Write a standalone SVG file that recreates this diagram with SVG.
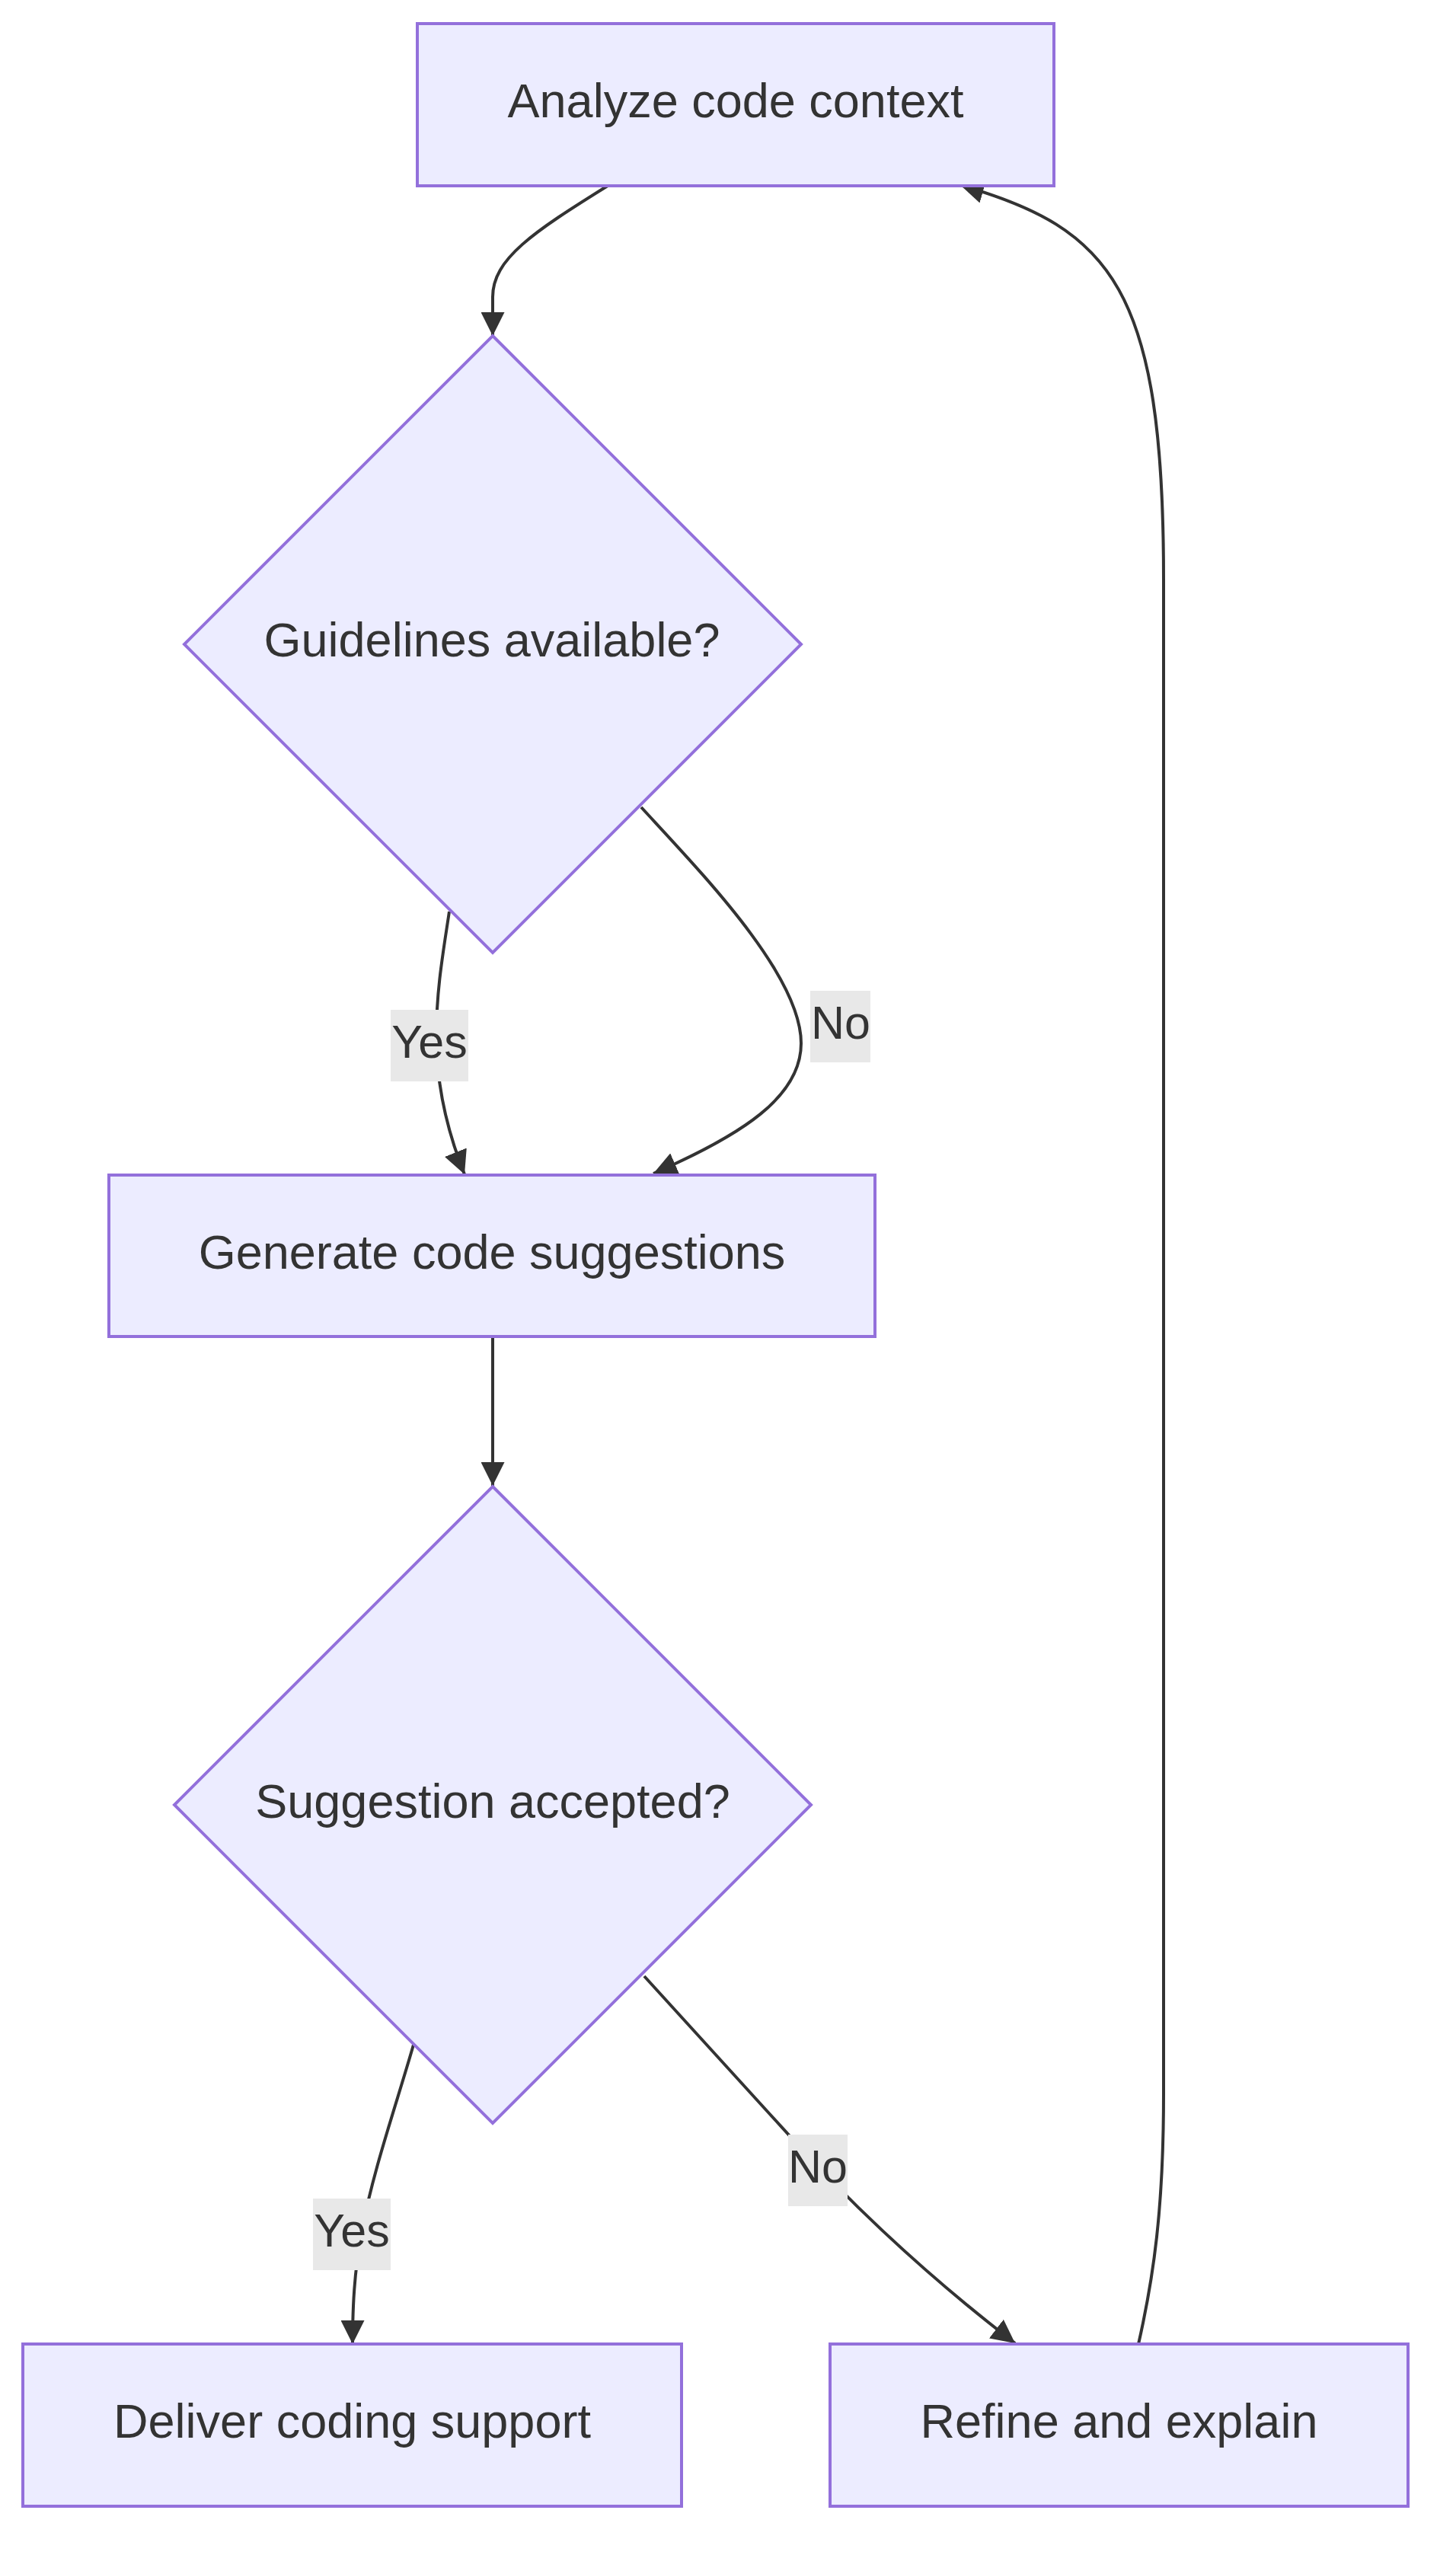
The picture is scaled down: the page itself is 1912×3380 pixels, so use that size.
<svg xmlns="http://www.w3.org/2000/svg" width="1912" height="3380" viewBox="0 0 1912 3380">
<defs>
<style>
.node-shape{fill:#ECECFF;stroke:#9370DB;stroke-width:4}
.node-text{font-family:"Liberation Sans",Arial,sans-serif;font-size:63px;fill:#333333;text-anchor:middle}
.edge{fill:none;stroke:#333333;stroke-width:4}
.lbl-bg{fill:#E8E8E8}
.lbl-text{font-family:"Liberation Sans",Arial,sans-serif;font-size:61px;fill:#333333;text-anchor:middle}
</style>
<marker id="arrow" viewBox="0 0 10 10" refX="10" refY="5" markerUnits="userSpaceOnUse" markerWidth="31" markerHeight="31" orient="auto">
<path d="M0,0 L10,5 L0,10 z" fill="#333333"/>
</marker>
</defs>
<rect width="1912" height="3380" fill="#FFFFFF"/>
<g id="connectors">
<path class="edge" d="M798,244 C700,305 647,340 647,390 L647,441" marker-end="url(#arrow)"/>
<path class="edge" d="M590,1197 C582,1250 573,1300 573,1360 C573,1420 585,1480 610,1542" marker-end="url(#arrow)"/>
<path class="edge" d="M842,1060 C920,1145 1052,1280 1052,1370 C1052,1440 975,1490 858,1541" marker-end="url(#arrow)"/>
<path class="edge" d="M647,1755 L647,1951" marker-end="url(#arrow)"/>
<path class="edge" d="M543,2685 C520,2765 490,2850 475,2930 C465,2985 463,3030 463,3078" marker-end="url(#arrow)"/>
<path class="edge" d="M846,2595 L1040,2808 C1100,2875 1200,2975 1333,3077" marker-end="url(#arrow)"/>
<path class="edge" d="M1495,3078 C1515,2990 1528,2900 1528,2750 L1528,760 C1528,380 1460,300 1261,243" marker-end="url(#arrow)"/>
</g>
<g id="edge-labels">
<g id="label-yes1"><rect class="lbl-bg" x="513" y="1326" width="102" height="94"/><text class="lbl-text" x="564" y="1389">Yes</text></g>
<g id="label-no1"><rect class="lbl-bg" x="1064" y="1301" width="79" height="94"/><text class="lbl-text" x="1104" y="1364">No</text></g>
<g id="label-yes2"><rect class="lbl-bg" x="411" y="2887" width="102" height="94"/><text class="lbl-text" x="462" y="2950">Yes</text></g>
<g id="label-no2"><rect class="lbl-bg" x="1035" y="2803" width="78" height="94"/><text class="lbl-text" x="1074" y="2866">No</text></g>
</g>
<g id="node-analyze">
<rect class="node-shape" x="548" y="31" width="836" height="213"/>
<text class="node-text" x="966" y="154">Analyze code context</text>
</g>
<g id="node-guidelines">
<polygon class="node-shape" points="647,441 1052,846 647,1251 242,846"/>
<text class="node-text" x="646" y="862">Guidelines available?</text>
</g>
<g id="node-generate">
<rect class="node-shape" x="143" y="1543" width="1006" height="212"/>
<text class="node-text" x="646" y="1666">Generate code suggestions</text>
</g>
<g id="node-accepted">
<polygon class="node-shape" points="647,1952 1065,2370 647,2788 229,2370"/>
<text class="node-text" x="647" y="2387">Suggestion accepted?</text>
</g>
<g id="node-deliver">
<rect class="node-shape" x="30" y="3078" width="865" height="213"/>
<text class="node-text" x="462.5" y="3201">Deliver coding support</text>
</g>
<g id="node-refine">
<rect class="node-shape" x="1090" y="3078" width="759" height="213"/>
<text class="node-text" x="1469.5" y="3201">Refine and explain</text>
</g>
</svg>
